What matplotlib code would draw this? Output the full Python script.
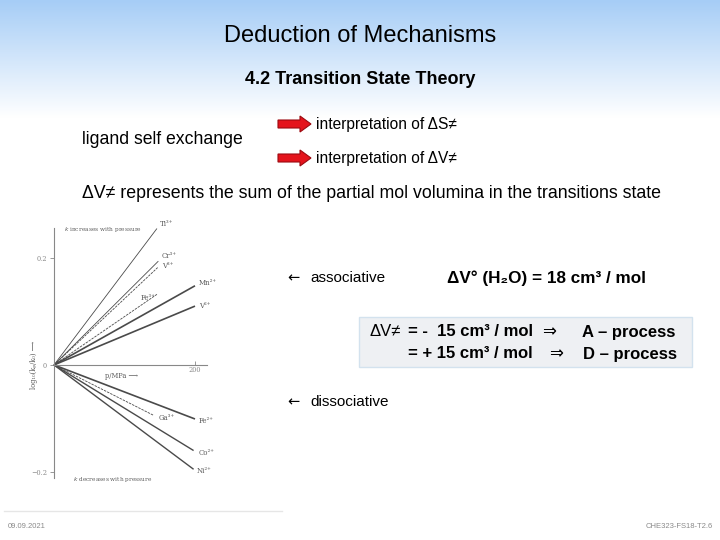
import numpy as np
import matplotlib
matplotlib.use("Agg")
import matplotlib.pyplot as plt
from matplotlib.patches import FancyArrow, Rectangle

plt.rcParams['font.family'] = ['Liberation Sans', 'DejaVu Sans']

# data: lines start at (0, 0) and end here
ions = ['Ti³⁺', 'Cr³⁺', 'V³⁺', 'Mn²⁺', 'Fe³⁺', 'V²⁺', 'Fe²⁺', 'Ga³⁺', 'Co²⁺', 'Ni²⁺']
p_end = [146, 148, 147, 200, 146, 200, 200, 141, 198, 198]
log_end = [0.255, 0.194, 0.182, 0.148, 0.132, 0.110, -0.101, -0.094, -0.160, -0.195]

y_ticks = [-0.2, 0, 0.2]
y_tick_labels = ['−0.2', '0', '0.2']
x_ticks = [200]
x_tick_labels = ['200']

# styles per line (width, dash) and label offsets in pixels (dx, dy, ha)
line_w = [0.6, 0.6, 0.6, 1.2, 0.6, 1.2, 1.2, 0.6, 1.0, 1.0]
line_ls = ['-', '-', (0, (3, 1.2)), '-', (0, (3, 1.2)), '-', '-', (0, (3, 1.2)), '-', '-']
lab_off = [(3, -5, 'left'), (3, -5, 'left'), (4, -2, 'left'), (4, -3, 'left'),
           (-1, 4, 'right'), (4, 0, 'left'), (4, 2, 'left'), (5, 3, 'left'),
           (5, 2, 'left'), (3, 2, 'left')]

fig = plt.figure(figsize=(7.2, 5.4), dpi=100)

# slide layer in pixel coordinates
bg = fig.add_axes([0, 0, 1, 1])
bg.set_xlim(0, 720)
bg.set_ylim(540, 0)
bg.axis('off')

top = np.array([166, 205, 246]) / 255.0
t = np.linspace(0, 1, 200)[:, None]
grad = top[None, None, :] * (1 - t[:, :, None]) + np.ones(3)[None, None, :] * t[:, :, None]
grad = np.repeat(grad, 2, axis=1)
bg.imshow(grad, extent=[0, 720, 118, 0], aspect='auto', zorder=0)

bg.text(360, 36, 'Deduction of Mechanisms', fontsize=17, ha='center', va='center')
bg.text(360, 80, '4.2 Transition State Theory', fontsize=13, fontweight='bold',
        ha='center', va='center')
bg.text(82, 139, 'ligand self exchange', fontsize=12.7, va='center')

for y in [124, 158]:
    bg.add_patch(FancyArrow(278, y, 22, 0, width=8, head_width=16, head_length=11,
                            length_includes_head=False, fc='#e4141c', ec='#9c0a10',
                            lw=0.8, zorder=3))
bg.text(316, 124, 'interpretation of ΔS≠', fontsize=11.2, va='center')
bg.text(316, 158, 'interpretation of ΔV≠', fontsize=11.2, va='center')

bg.text(82, 194, 'ΔV≠ represents the sum of the partial mol volumina in the transitions state',
        fontsize=12.8, va='center')

arrow_font = dict(family='DejaVu Sans', fontsize=10.5, va='center')
bg.text(287, 278, '←', **arrow_font)
bg.text(310, 278, 'associative', fontsize=11, va='center')
bg.text(287, 402, '←', **arrow_font)
bg.text(310, 402, 'dissociative', fontsize=11, va='center')
bg.text(447, 278, 'ΔV° (H₂O) = 18 cm³ / mol', fontsize=12.3, fontweight='bold', va='center')

bg.add_patch(Rectangle((359, 317), 333, 50, fc='#eef0f3', ec='#d3e2ee', lw=1, zorder=1))
kw = dict(fontsize=12, fontweight='bold', va='center', zorder=2)
bg.text(370, 332, 'ΔV≠', fontweight='normal', fontsize=12, va='center', zorder=2)
bg.text(408, 332, '= -  15 cm³ / mol', **kw)
bg.text(542, 332, '⇒', fontsize=12, va='center', zorder=2)
bg.text(582, 332, 'A – process', **kw)
bg.text(408, 354, '= + 15 cm³ / mol', **kw)
bg.text(549, 354, '⇒', fontsize=12, va='center', zorder=2)
bg.text(583, 354, 'D – process', **kw)

bg.plot([4, 282], [511, 511], color='#e6e6e6', lw=1)
bg.text(8, 527, '09.09.2021', fontsize=5.5, color='#8a8a8a', va='center')
bg.text(713, 527, 'CHE323-FS18-T2.6', fontsize=5.5, color='#8a8a8a', va='center', ha='right')

# embedded figure: pressure dependence of log10(kp/k0)
ax = fig.add_axes([32.85 / 720, 52 / 540, 190.35 / 720, 267.5 / 540])
ax.patch.set_alpha(0)
ax.set_xlim(-30, 240)
ax.set_ylim(-0.23, 0.27)
for s in ['top', 'right']:
    ax.spines[s].set_visible(False)
ax.spines['left'].set_position(('data', 0))
ax.spines['bottom'].set_position(('data', 0))
ax.spines['left'].set_bounds(-0.211, 0.256)
ax.spines['bottom'].set_bounds(0, 217)
for s in ['left', 'bottom']:
    ax.spines[s].set_color('#888888')
    ax.spines[s].set_linewidth(0.8)

serif = dict(family='DejaVu Serif', color='#5a5a5a')
ax.set_yticks(y_ticks)
ax.set_yticklabels(y_tick_labels, fontsize=4.8, **serif)
ax.set_xticks(x_ticks)
ax.set_xticklabels(x_tick_labels, fontsize=4.8, **serif)
ax.tick_params(axis='y', direction='out', length=3, width=0.6, colors='#888888', pad=2)
ax.tick_params(axis='x', direction='in', length=3, width=0.6, colors='#888888', pad=1)

for i, ion in enumerate(ions):
    ax.plot([0, p_end[i]], [0, log_end[i]], color='#4a4a4a', lw=line_w[i],
            ls=line_ls[i], solid_capstyle='butt')
    dx, dy, ha = lab_off[i]
    ax.annotate(ion, (p_end[i], log_end[i]), xytext=(dx * 0.72, -dy * 0.72),
                textcoords='offset points', ha=ha, va='center', fontsize=5, **serif)

ax.text(72, -0.02, 'p/MPa ⟶', fontsize=4.8, ha='left', va='center', **serif)
ax.text(-29, 0.0, 'log₁₀(kₚ/k₀) ⟶', rotation=90, fontsize=4.8, ha='center', va='center', **serif)
ax.text(70, 0.253, r'$k$ increases with pressure', fontsize=4.2, ha='center', va='center', **serif)
ax.text(84, -0.215, r'$k$ decreases with pressure', fontsize=4.2, ha='center', va='center', **serif)

fig.savefig('out.png', dpi=100)
